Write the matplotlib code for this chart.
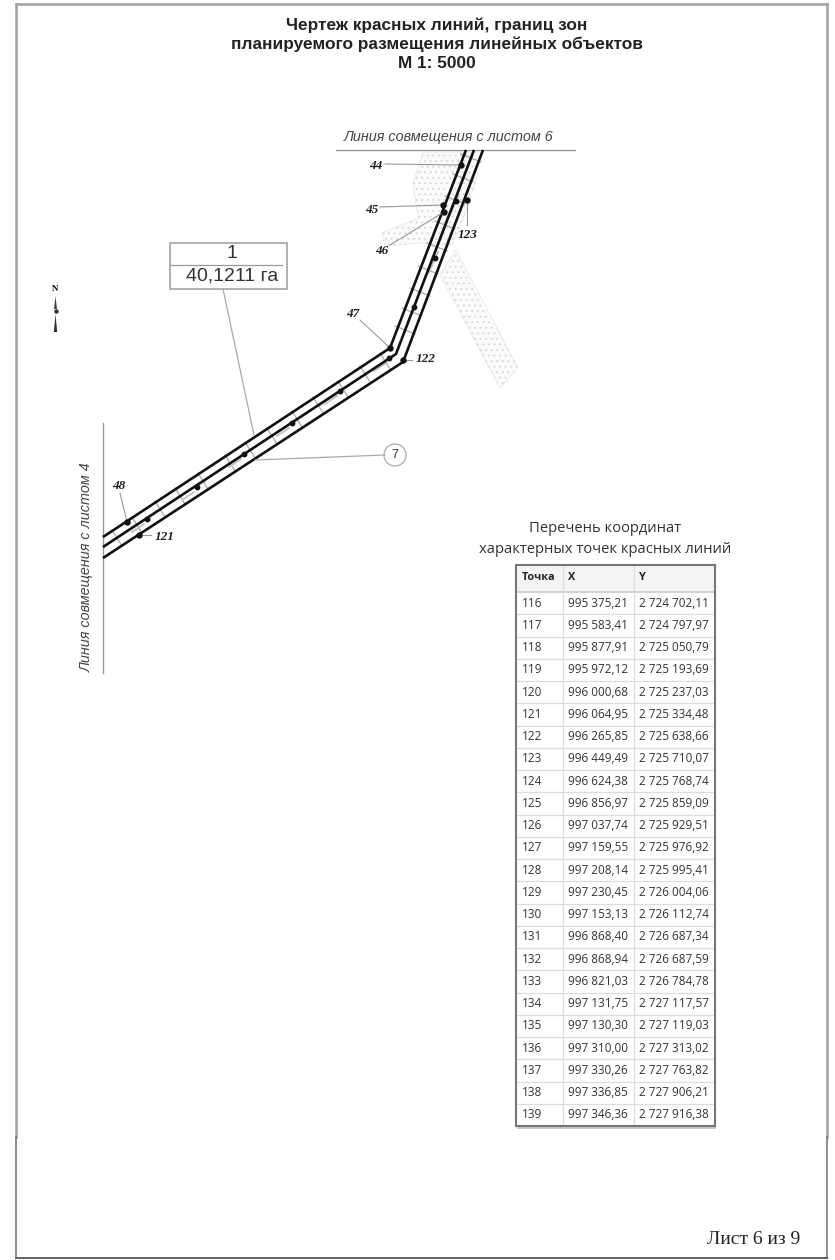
import matplotlib
matplotlib.use('Agg')
from matplotlib import pyplot as plt
from matplotlib.patches import Polygon, Rectangle, Circle

title_lines = ['Чертеж красных линий, границ зон',
               'планируемого размещения линейных объектов',
               'М 1: 5000']

# map geometry, in sheet pixels
line_upper = [(466, 150), (390, 348), (103, 537)]
line_middle = [(474, 150), (396, 354), (103, 547)]
line_lower = [(483, 150), (403, 362), (103, 558)]

zone_north = [(423, 152), (470, 152), (478, 175), (465, 215), (452, 245), (420, 243),
              (385, 246), (382, 233), (418, 218), (413, 183)]
zone_south = [(440, 275), (456, 250), (518, 368), (500, 388)]

ticks_sw = [(117, 538), (137, 525), (160, 509), (180, 496), (203, 481), (230, 463), (250, 450),
            (272, 436), (297, 419), (318, 405), (343, 389), (365, 374), (385, 361)]
ticks_ne = [(405, 330), (412, 312), (420, 292), (428, 270), (437, 247), (445, 225),
            (455, 200), (463, 178), (471, 158)]

point_labels = ['44', '45', '46', '47', '48', '121', '122', '123']
point_xy = [(461, 165), (443, 205), (444, 212), (390, 348), (127, 522), (139, 535), (403, 360), (467, 200)]
label_xy = [(376, 166), (372, 210), (382, 251), (353, 314), (119, 486), (165, 537), (426, 359), (468, 235)]
leader_xy = [(385, 164), (380, 207), (390, 245), (360, 320), (120, 493), (151, 535), (412, 360), (467, 225)]
middle_dots = [(147, 519), (197, 487), (244, 454), (292, 423), (340, 391), (389, 358),
               (414, 307), (435, 258), (456, 201)]

table_title = ['Перечень координат', 'характерных точек красных линий']
table_head = ['Точка', 'X', 'Y']
point_ids = list(range(116, 140))
x_coords = ['995 375,21', '995 583,41', '995 877,91', '995 972,12', '996 000,68', '996 064,95',
            '996 265,85', '996 449,49', '996 624,38', '996 856,97', '997 037,74', '997 159,55',
            '997 208,14', '997 230,45', '997 153,13', '996 868,40', '996 868,94', '996 821,03',
            '997 131,75', '997 130,30', '997 310,00', '997 330,26', '997 336,85', '997 346,36']
y_coords = ['2 724 702,11', '2 724 797,97', '2 725 050,79', '2 725 193,69', '2 725 237,03',
            '2 725 334,48', '2 725 638,66', '2 725 710,07', '2 725 768,74', '2 725 859,09',
            '2 725 929,51', '2 725 976,92', '2 725 995,41', '2 726 004,06', '2 726 112,74',
            '2 726 687,34', '2 726 687,59', '2 726 784,78', '2 727 117,57', '2 727 119,03',
            '2 727 313,02', '2 727 763,82', '2 727 906,21', '2 727 916,38']

plt.rcParams['font.family'] = ['Liberation Sans', 'DejaVu Sans']
plt.rcParams['hatch.linewidth'] = 0.7

fig = plt.figure(figsize=(8.35, 12.6), dpi=100)
ax = fig.add_axes([0, 0, 1, 1])
ax.set_xlim(0, 835)
ax.set_ylim(1260, 0)
ax.axis('off')

# sheet frame, lighter and wider above the table bottom
ax.plot([16, 16], [4, 1137], color='#a0a0a0', lw=1.8)
ax.plot([827, 827], [4, 1137], color='#a0a0a0', lw=1.8)
ax.plot([16, 827], [4, 4], color='#a0a0a0', lw=1.8)
ax.plot([16, 16], [1137, 1258], color='#707070', lw=1.1)
ax.plot([827, 827], [1137, 1258], color='#707070', lw=1.1)
ax.plot([16, 827], [1257.5, 1257.5], color='#555555', lw=1.3)

for y, s in zip([25, 44, 63], title_lines):
    ax.text(437, y, s, ha='center', va='center', fontsize=12.4, fontweight='bold', color='#222222')

# hatched zones
for zone in (zone_north, zone_south):
    ax.add_patch(Polygon(zone, closed=True, facecolor='#fbfbfb', edgecolor='#d8d8d8', hatch='...', lw=0.3))

# match lines
ax.plot([336, 575], [150, 150], color='#999999', lw=1.0)
ax.plot([103, 103], [423, 673], color='#999999', lw=1.0)
ax.text(449, 137, 'Линия совмещения с листом 6', ha='center', va='center', fontsize=10.4,
        style='italic', color='#444444')
ax.text(87, 567, 'Линия совмещения с листом 4', ha='center', va='center', fontsize=10.4,
        style='italic', rotation=90, color='#444444')

# cross ticks
for x, y in ticks_sw:
    ax.plot([x - 5, x + 5], [y - 8, y + 8], color='#aaaaaa', lw=0.9)
for x, y in ticks_ne:
    ax.plot([x - 10, x + 10], [y - 4, y + 4], color='#aaaaaa', lw=0.9)

# grey dashes beside the axis dots
for x, y in middle_dots[:6]:
    ax.plot([x - 15, x - 3], [y + 13, y + 5], color='#c4c4c4', lw=1.3)
for x, y in middle_dots[6:]:
    ax.plot([x - 6, x + 3], [y + 14, y - 6], color='#c4c4c4', lw=1.3)

for line in (line_upper, line_middle, line_lower):
    ax.plot([p[0] for p in line], [p[1] for p in line], color='#111111', lw=1.9,
            solid_joinstyle='miter', solid_capstyle='butt')

ax.plot([p[0] for p in middle_dots], [p[1] for p in middle_dots], 'o', color='#111111', ms=3.2)

# numbered points
for name, (px, py), (lx, ly), (sx, sy) in zip(point_labels, point_xy, label_xy, leader_xy):
    ax.plot([sx, px], [sy, py], color='#999999', lw=0.8)
    ax.plot(px, py, 'o', color='#111111', ms=3.6)
    ax.text(lx, ly, name, ha='center', va='center', fontsize=9.5, style='italic', fontweight='bold',
            family='Liberation Serif', color='#222222')

# area callout
ax.add_patch(Rectangle((170, 243), 117, 46, facecolor='white', edgecolor='#aaaaaa', lw=1.3))
ax.plot([170, 282], [264.5, 264.5], color='#999999', lw=0.9)
ax.text(232, 254, '1', ha='center', va='center', fontsize=14, color='#333333')
ax.text(232, 276, '40,1211 га', ha='center', va='center', fontsize=14, color='#333333')
ax.plot([223, 254], [289, 435], color='#aaaaaa', lw=0.9)

ax.plot([255, 385], [460, 455], color='#aaaaaa', lw=0.9)
ax.add_patch(Circle((395, 455), 11, facecolor='white', edgecolor='#aaaaaa', lw=0.9))
ax.text(395, 455, '7', ha='center', va='center', fontsize=9, color='#333333')

# north arrow
ax.text(55.5, 289, 'N', ha='center', va='center', fontsize=6.5, fontweight='bold', family='Liberation Serif')
ax.add_patch(Polygon([(55.5, 296), (54, 309), (57, 309)], color='#444444', lw=0))
ax.add_patch(Polygon([(55.5, 314), (53.8, 332), (57.2, 332)], color='#333333', lw=0))
ax.plot(55.5, 311, 'o', color='#333333', ms=2.2)

# coordinates table
for i, s in enumerate(table_title):
    ax.text(605, 529 + i * 20.5, s, ha='center', va='center', fontsize=10.6, family='Open Sans', color='#333333')

tab_left, tab_right, tab_top, tab_bottom = 516, 715, 565, 1126
col_x = [563, 634]
head_h = 27
row_h = (tab_bottom - tab_top - head_h) / len(point_ids)
ax.add_patch(Rectangle((tab_left, tab_top), tab_right - tab_left, head_h, facecolor='#f4f4f4', edgecolor='none'))
ax.add_patch(Rectangle((tab_left + 1, tab_bottom), tab_right - tab_left, 2.5, facecolor='#c8c8c8', edgecolor='none'))
for i in range(1, len(point_ids)):
    y = tab_top + head_h + i * row_h
    ax.plot([tab_left, tab_right], [y, y], color='#dddddd', lw=0.9)
ax.plot([tab_left, tab_right], [tab_top + head_h] * 2, color='#cccccc', lw=1.2)
for x in col_x:
    ax.plot([x, x], [tab_top, tab_bottom], color='#dddddd', lw=0.9)
ax.add_patch(Rectangle((tab_left, tab_top), tab_right - tab_left, tab_bottom - tab_top,
                       facecolor='none', edgecolor='#777777', lw=1.5, zorder=5))

text_x = [522, 568, 639]
for x, s in zip(text_x, table_head):
    ax.text(x, tab_top + 13, s, ha='left', va='center', fontsize=7.8, fontweight='bold',
            family='Open Sans', color='#222222')
for i, (pid, xc, yc) in enumerate(zip(point_ids, x_coords, y_coords)):
    y = tab_top + head_h + (i + 0.5) * row_h
    for x, s in zip(text_x, (str(pid), xc, yc)):
        ax.text(x, y, s, ha='left', va='center', fontsize=8.5, family='Open Sans', color='#333333')

ax.text(754, 1240, 'Лист 6 из 9', ha='center', va='center', fontsize=14, family='Liberation Serif', color='#222222')

fig.savefig('out.png', dpi=100)
